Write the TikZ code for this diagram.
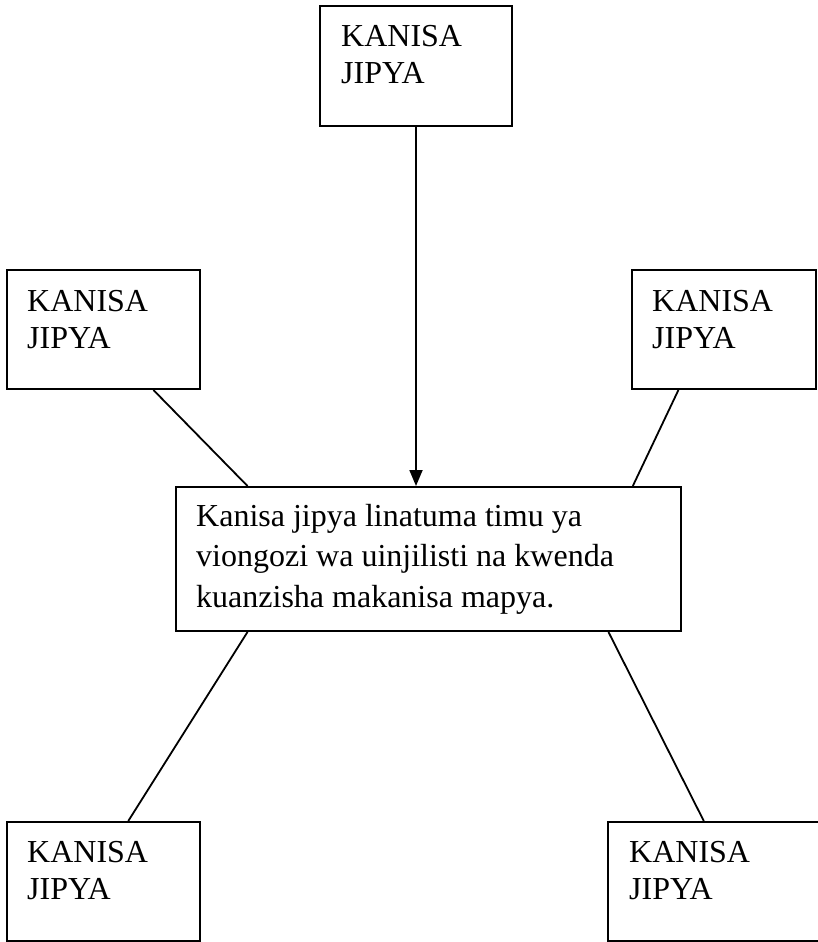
\documentclass[tikz,border=0pt]{standalone}
\usepackage{fontspec}
\setmainfont{Liberation Serif}
\usetikzlibrary{arrows.meta,calc}
\tikzset{
  boxnode/.style={draw=black, line width=2pt, inner sep=0pt, fill=none},
  boxtext/.style={inner sep=0pt, anchor=base west, font=\fontsize{32}{37}\selectfont},
  wiretext/.style={inner sep=0pt, anchor=base west, font=\fontsize{32}{40.5}\selectfont},
  link/.style={draw=black, line width=1.8pt},
  arrowlink/.style={link, -{Triangle[length=16pt,width=13pt]}}
}
\begin{document}
\begin{tikzpicture}[x=1pt,y=-1pt]
\useasboundingbox (0,0) rectangle (817,942);
% boxes
\node[boxnode, minimum width=192pt, minimum height=120pt] (T) at (416,66) {};
\node[boxnode, minimum width=193pt, minimum height=119pt] (L) at (103.5,329.5) {};
\node[boxnode, minimum width=184pt, minimum height=119pt] (R) at (724,329.5) {};
\node[boxnode, minimum width=505pt, minimum height=144pt] (C) at (428.5,559) {};
\node[boxnode, minimum width=193pt, minimum height=119pt] (BL) at (103.5,881.5) {};
\node[boxnode, minimum width=217pt, minimum height=119pt] (BR) at (716.5,881.5) {};
% texts
\node[boxtext] (tT) at (341,47) {\vtop{\hbox{KANISA}\hbox{JIPYA}}};
\node[boxtext] (tL) at (27,311) {\vtop{\hbox{KANISA}\hbox{JIPYA}}};
\node[boxtext] (tR) at (652,311) {\vtop{\hbox{KANISA}\hbox{JIPYA}}};
\node[boxtext] (tBL) at (27,862) {\vtop{\hbox{KANISA}\hbox{JIPYA}}};
\node[boxtext] (tBR) at (629,862) {\vtop{\hbox{KANISA}\hbox{JIPYA}}};
\node[wiretext] (tC) at (196,526) {\vtop{\hbox{Kanisa jipya linatuma timu ya}\hbox{viongozi wa uinjilisti na kwenda}\hbox{kuanzisha makanisa mapya.}}};
% connectors
\draw[arrowlink] (T.south) -- (T.south |- C.north);
\draw[link] ($(L.south west)!0.756!(L.south east)$) -- ($(C.north west)!0.143!(C.north east)$);
\draw[link] ($(R.south west)!0.255!(R.south east)$) -- ($(C.north west)!0.903!(C.north east)$);
\draw[link] ($(C.south west)!0.143!(C.south east)$) -- ($(BL.north west)!0.627!(BL.north east)$);
\draw[link] ($(C.south west)!0.855!(C.south east)$) -- ($(BR.north west)!0.442!(BR.north east)$);
\end{tikzpicture}
\end{document}
